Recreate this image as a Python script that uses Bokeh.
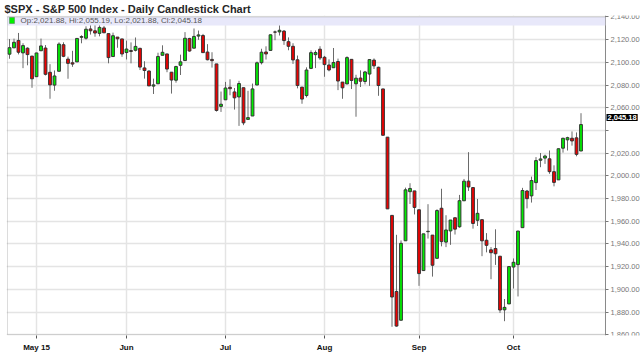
from bokeh.plotting import figure
from bokeh.models import (Range1d, FixedTicker, NumeralTickFormatter, Label,
                          BoxAnnotation, ColumnDataSource)
from bokeh.embed import file_html
from bokeh.resources import INLINE

dates = ["2015-04-23","2015-04-24","2015-04-27","2015-04-28","2015-04-29","2015-04-30",
 "2015-05-01","2015-05-04","2015-05-05","2015-05-06","2015-05-07","2015-05-08","2015-05-11","2015-05-12",
 "2015-05-13","2015-05-14","2015-05-15","2015-05-18","2015-05-19","2015-05-20","2015-05-21","2015-05-22",
 "2015-05-26","2015-05-27","2015-05-28","2015-05-29",
 "2015-06-01","2015-06-02","2015-06-03","2015-06-04","2015-06-05","2015-06-08","2015-06-09","2015-06-10",
 "2015-06-11","2015-06-12","2015-06-15","2015-06-16","2015-06-17","2015-06-18","2015-06-19","2015-06-22",
 "2015-06-23","2015-06-24","2015-06-25","2015-06-26","2015-06-29","2015-06-30",
 "2015-07-01","2015-07-02","2015-07-06","2015-07-07","2015-07-08","2015-07-09","2015-07-10","2015-07-13",
 "2015-07-14","2015-07-15","2015-07-16","2015-07-17","2015-07-20","2015-07-21","2015-07-22","2015-07-23",
 "2015-07-24","2015-07-27","2015-07-28","2015-07-29","2015-07-30","2015-07-31",
 "2015-08-03","2015-08-04","2015-08-05","2015-08-06","2015-08-07","2015-08-10","2015-08-11","2015-08-12",
 "2015-08-13","2015-08-14","2015-08-17","2015-08-18","2015-08-19","2015-08-20","2015-08-21","2015-08-24",
 "2015-08-25","2015-08-26","2015-08-27","2015-08-28","2015-08-31",
 "2015-09-01","2015-09-02","2015-09-03","2015-09-04","2015-09-08","2015-09-09","2015-09-10","2015-09-11",
 "2015-09-14","2015-09-15","2015-09-16","2015-09-17","2015-09-18","2015-09-21","2015-09-22","2015-09-23",
 "2015-09-24","2015-09-25","2015-09-28","2015-09-29","2015-09-30",
 "2015-10-01","2015-10-02","2015-10-05","2015-10-06","2015-10-07","2015-10-08","2015-10-09","2015-10-12",
 "2015-10-13","2015-10-14","2015-10-15","2015-10-16","2015-10-19","2015-10-20","2015-10-21","2015-10-22"]

opens = [2107.21,2112.80,2119.29,2108.35,2112.49,2105.52,
 2087.38,2110.23,2112.63,2091.26,2079.96,2092.13,2115.56,2102.87,2099.62,2100.43,2122.07,2121.30,2129.45,
 2127.79,2125.55,2130.36,2125.34,2105.13,2122.27,2120.66,
 2108.64,2110.41,2110.64,2112.35,2095.09,2092.34,2079.07,2081.12,2106.24,2107.43,2091.34,2084.26,2097.40,
 2101.58,2121.06,2112.50,2123.16,2123.65,2109.10,2102.62,2098.63,2061.19,
 2067.00,2078.03,2073.95,2069.52,2077.66,2049.73,2052.74,2080.03,2099.72,2109.16,2110.55,2126.80,2126.85,
 2127.55,2118.21,2114.16,2102.24,2078.19,2070.75,2094.70,2106.78,2111.60,
 2104.49,2097.68,2095.27,2100.75,2082.61,2080.98,2102.66,2081.10,2086.19,2083.15,2089.70,2101.99,2095.69,
 2076.61,2034.08,1965.15,1898.08,1872.75,1942.77,1986.06,1986.73,
 1970.09,1916.52,1950.79,1947.76,1927.30,1971.45,1941.59,1951.45,1963.06,1955.10,1978.02,1995.33,1989.66,
 1960.84,1961.39,1943.24,1934.81,1935.93,1929.18,1881.90,1887.14,
 1919.65,1921.77,1954.33,1986.63,1982.34,1994.01,2013.73,2015.65,2015.00,2003.66,1996.47,2024.37,2031.73,
 2033.13,2033.47,2021.88]

highs = [2120.49,2120.92,2125.92,2116.87,2113.24,2105.52,
 2108.41,2120.95,2115.24,2098.42,2092.90,2117.66,2117.69,2105.06,2110.19,2121.45,2123.89,2131.78,2133.02,
 2134.72,2134.28,2132.15,2125.34,2126.22,2122.27,2120.66,
 2119.15,2117.59,2121.92,2112.89,2100.99,2093.01,2085.67,2108.50,2115.02,2107.43,2091.34,2097.03,2106.79,
 2126.65,2121.64,2129.87,2128.03,2125.10,2116.04,2108.92,2098.63,2074.28,
 2082.78,2085.06,2077.43,2083.74,2077.66,2074.91,2081.31,2100.67,2111.99,2114.14,2124.42,2128.04,2132.82,
 2128.49,2121.99,2116.87,2106.01,2078.19,2095.60,2110.60,2110.48,2114.24,
 2105.70,2102.68,2112.66,2103.32,2082.61,2105.35,2102.66,2089.06,2092.93,2092.45,2102.87,2103.47,2096.17,
 2076.61,2034.08,1965.15,1948.04,1943.09,1989.60,1993.48,1986.73,
 1970.09,1948.91,1975.01,1947.76,1970.52,1988.63,1965.29,1961.05,1963.06,1983.19,1997.26,2020.86,1989.66,
 1979.64,1961.39,1949.52,1937.17,1952.89,1929.18,1891.46,1920.53,
 1927.21,1951.36,1989.41,1987.55,1999.31,2016.50,2020.13,2018.66,2022.34,2009.26,2024.15,2033.54,2034.45,
 2039.12,2038.25,2055.19]

lows = [2103.19,2112.80,2107.04,2094.89,2097.41,2077.59,
 2087.38,2110.23,2088.46,2067.93,2074.99,2092.13,2104.58,2085.57,2096.04,2100.43,2116.81,2120.01,2124.50,
 2122.59,2122.95,2126.06,2099.18,2105.13,2112.86,2104.89,
 2102.54,2099.14,2109.61,2093.23,2085.67,2079.11,2072.14,2081.12,2106.24,2091.33,2072.49,2082.10,2088.86,
 2101.58,2109.45,2112.50,2119.89,2108.58,2101.78,2095.38,2056.64,2056.32,
 2067.00,2071.02,2058.40,2044.02,2044.66,2049.73,2052.74,2080.03,2098.18,2102.49,2110.55,2119.52,2123.66,
 2115.40,2110.67,2098.63,2077.09,2063.52,2069.09,2094.08,2094.97,2102.07,
 2087.31,2092.11,2095.27,2075.53,2067.91,2080.98,2076.49,2052.09,2078.26,2080.61,2079.30,2094.14,2070.53,
 2035.73,1970.89,1867.01,1867.08,1872.75,1942.77,1975.19,1965.98,
 1903.07,1916.52,1944.72,1911.21,1927.30,1937.88,1937.19,1939.19,1948.27,1954.30,1977.93,1986.73,1953.45,
 1955.80,1929.22,1932.57,1908.92,1921.50,1879.21,1871.91,1887.14,
 1900.70,1893.70,1954.33,1971.32,1976.44,1987.53,2007.61,2010.55,2001.78,1990.73,1996.47,2020.46,2022.31,
 2026.61,2017.22,2021.88]

closes = [2112.93,2117.69,2108.92,2114.76,2106.85,2085.51,
 2108.29,2114.49,2089.46,2080.15,2088.00,2116.10,2105.33,2099.12,2098.48,2121.10,2122.73,2129.20,2127.83,
 2125.85,2130.82,2126.06,2104.20,2123.48,2120.79,2107.39,
 2111.73,2109.60,2114.07,2095.84,2092.83,2079.28,2080.15,2105.20,2108.86,2094.11,2084.43,2096.29,2100.44,
 2121.24,2109.99,2122.85,2124.20,2108.58,2102.31,2101.49,2057.64,2063.11,
 2077.42,2076.78,2068.76,2081.34,2046.68,2051.31,2076.62,2099.60,2108.95,2107.40,2124.29,2126.64,2128.28,
 2119.21,2114.15,2102.15,2079.65,2067.64,2093.25,2108.57,2108.63,2103.84,
 2098.04,2093.32,2099.84,2083.56,2077.57,2104.18,2084.07,2086.05,2083.39,2091.54,2102.44,2096.92,2079.61,
 2035.73,1970.89,1893.21,1867.61,1940.51,1987.66,1988.87,1972.18,
 1913.85,1948.86,1951.13,1921.22,1969.41,1942.04,1952.29,1961.05,1953.03,1978.09,1995.31,1990.20,1958.03,
 1966.97,1942.74,1938.76,1932.24,1931.34,1881.77,1884.09,1920.03,
 1923.82,1951.36,1987.05,1979.92,1995.83,2013.43,2014.89,2017.46,2003.69,1994.24,2023.86,2033.11,2033.66,
 2030.77,2018.94,2045.18]

month_ticks = [6, 26, 48, 70, 91, 112]
month_labels = ["May 15", "Jun", "Jul", "Aug", "Sep", "Oct"]
price_ticks = [1860, 1880, 1900, 1920, 1940, 1960, 1980, 2000, 2020, 2040, 2060, 2080, 2100, 2120, 2140]
hidden_price_labels = [2040]
title_text = "$SPX - S&P 500 Index - Daily Candlestick Chart"
info_text = "Op:2,021.88, Hi:2,055.19, Lo:2,021.88, Cl:2,045.18"
last_price_text = "2,045.18"

UP = "#00f000"
DOWN = "#f00000"
BORDER = "#8a8a8a"

# chart box (index units / price units)
X_LEFT, X_RIGHT = -0.444, 132.44
P_LOW, P_HIGH = 1860, 2140

idx = list(range(len(dates)))
src = ColumnDataSource(dict(
    x=idx, o=opens, h=highs, l=lows, c=closes,
    top=[max(o, c) for o, c in zip(opens, closes)],
    bot=[min(o, c) for o, c in zip(opens, closes)],
    col=[UP if c >= o else DOWN for o, c in zip(opens, closes)],
))

p = figure(width=640, height=363, output_backend="svg", toolbar_location=None,
           x_range=Range1d(-0.667, 140.22), y_range=Range1d(1859.3, 2141.3),
           y_axis_location="right", min_border_left=6, min_border_right=0,
           min_border_top=13, min_border_bottom=28)
p.background_fill_color = "white"
p.border_fill_color = "white"
p.outline_line_color = None

p.title.text = title_text
p.title.text_font = "Liberation Sans"
p.title.text_font_size = "11px"
p.title.text_font_style = "bold"
p.title.text_color = "#262626"
p.title.align = "left"
p.title.offset = -2
p.title.standoff = 1

p.xgrid.grid_line_color = "#e4e4e4"
p.ygrid.grid_line_color = "#e4e4e4"
p.xgrid.grid_line_width = 1.5
p.ygrid.grid_line_width = 1.5

xa = p.xaxis[0]
xa.ticker = FixedTicker(ticks=month_ticks)
xa.major_label_overrides = {t: s for t, s in zip(month_ticks, month_labels)}
xa.major_label_text_font = "Liberation Sans"
xa.major_label_text_font_style = "bold"
xa.major_label_text_font_size = "8px"
xa.major_label_text_color = "#111111"
xa.axis_line_color = None
xa.major_tick_line_color = "#555555"
xa.major_tick_in = 0
xa.major_tick_out = 3
xa.minor_tick_line_color = None
xa.major_label_standoff = 4

ya = p.yaxis[0]
ya.fixed_location = X_RIGHT
ya.ticker = FixedTicker(ticks=price_ticks)
ya.formatter = NumeralTickFormatter(format="0,0.00")
ya.major_label_overrides = {t: "" for t in hidden_price_labels}
ya.major_label_text_font = "Liberation Sans"
ya.major_label_text_font_size = "7.5px"
ya.major_label_text_color = "#777777"
ya.axis_line_color = BORDER
ya.major_tick_line_color = "#777777"
ya.major_tick_in = 0
ya.major_tick_out = 3
ya.minor_tick_line_color = None
ya.major_label_standoff = 2

# white mask to the right of the chart box (hides grid lines under the price labels)
p.quad(left=[X_RIGHT], right=[150], bottom=[1800], top=[2200], fill_color="white",
       line_color=None)

p.segment(x0="x", y0="h", x1="x", y1="l", source=src, line_color="#6a6a6a", line_width=1)
p.vbar(x="x", width=0.62, top="top", bottom="bot", source=src,
       fill_color="col", line_color="#333333", line_width=1)

band = BoxAnnotation(left=X_LEFT, right=X_RIGHT, top=P_HIGH, bottom=2132.4,
                     fill_color="#e8e8fa", fill_alpha=1.0, line_color=None)
p.add_layout(band)
box = BoxAnnotation(left=X_LEFT, right=X_RIGHT, top=P_HIGH, bottom=P_LOW,
                    fill_alpha=0.0, line_color=BORDER, line_width=1)
p.add_layout(box)

sq = BoxAnnotation(left=3, right=8, bottom=312, top=318, left_units="screen", right_units="screen",
                   bottom_units="screen", top_units="screen", fill_color=UP, fill_alpha=1.0,
                   line_color="#333333", line_width=1)
p.add_layout(sq)

p.add_layout(Label(x=14, y=315, x_units="screen", y_units="screen", text=info_text,
                   text_font="Liberation Sans", text_font_size="8px", text_color="#555555",
                   text_baseline="middle"))
p.add_layout(Label(x=X_RIGHT, y=closes[-1], x_offset=1, y_offset=7, text=last_price_text,
                   text_font="Liberation Sans", text_font_size="7.5px", text_font_style="bold",
                   text_color="white", background_fill_color="black", background_fill_alpha=1.0,
                   text_baseline="middle", padding=1))

open("out.html", "w").write(file_html(p, INLINE))
